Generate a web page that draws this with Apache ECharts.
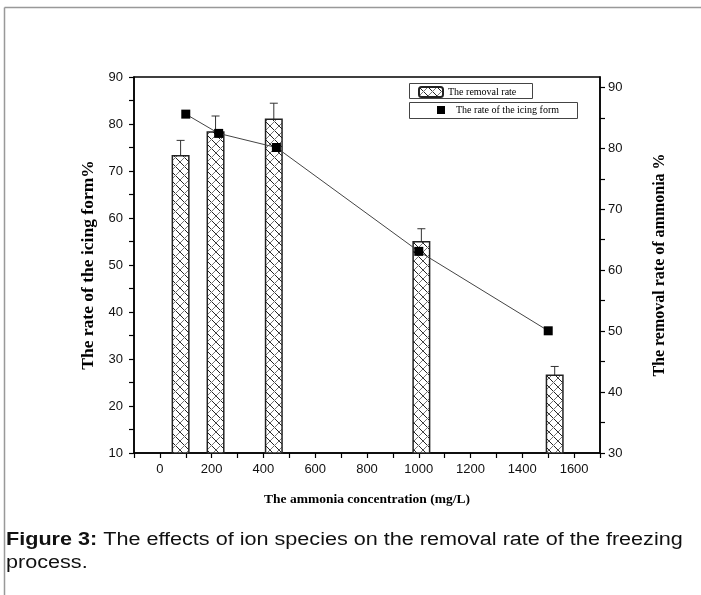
<!DOCTYPE html>
<html>
<head>
<meta charset="utf-8">
<script src="https://cdn.jsdelivr.net/npm/echarts@6/dist/echarts.min.js"></script>
<style>
  html, body { margin: 0; padding: 0; background: #fff; }
  #chart { width: 701px; height: 595px; }
</style>
</head>
<body>
<div id="chart"></div>
<script>
// removal rate bars (right axis)
const barX = [80, 215, 440, 1010, 1525];
const removalRate = [78.9, 82.8, 84.9, 64.8, 42.9];
const removalErr = [2.4, 2.5, 2.5, 2.0, 1.3];
// icing form rate points (left axis)
const icingX = [100, 227, 450, 1000, 1500];
const icingRate = [82.1, 78.0, 75.0, 52.9, 36.0];
const xLabels = [0, 200, 400, 600, 800, 1000, 1200, 1400, 1600];

// cross hatch fill
function hatch() {
  const c = document.createElement("canvas");
  c.width = 9;
  c.height = 9;
  const ctx = c.getContext("2d");
  ctx.fillStyle = "#fff";
  ctx.fillRect(0, 0, 9, 9);
  ctx.lineWidth = 1;
  ctx.strokeStyle = "#222";
  ctx.beginPath();
  ctx.moveTo(0, 0);
  ctx.lineTo(9, 9);
  ctx.stroke();
  ctx.strokeStyle = "#777";
  ctx.beginPath();
  ctx.moveTo(9, 0);
  ctx.lineTo(0, 9);
  ctx.stroke();
  return c;
}

const barData = barX.map((x, i) => [x, removalRate[i]]);
const errData = barX.map((x, i) => [x, removalRate[i] - removalErr[i], removalRate[i] + removalErr[i]]);
const icingData = icingX.map((x, i) => [x, icingRate[i]]);

const serif = "Liberation Serif";
const sans = "Liberation Sans";

const chart = echarts.init(document.getElementById("chart"));
const option = {
  animation: false,
  grid: {
    left: 134,
    right: 101,
    top: 77,
    bottom: 142,
    show: true,
    borderColor: "#000",
    borderWidth: 1.5,
  },
  legend: [
    {
      data: ["The removal rate"],
      left: 418,
      top: 86,
      itemWidth: 24,
      itemHeight: 10,
      itemGap: 4,
      padding: 0,
      textStyle: { fontFamily: serif, fontSize: 10, color: "#000" },
    },
    {
      data: ["The rate of the icing form"],
      left: 437,
      top: 105,
      icon: "rect",
      itemWidth: 8,
      itemHeight: 8,
      padding: 0,
      textStyle: { fontFamily: serif, fontSize: 10, color: "#000", padding: [0, 0, 0, 6] },
    },
  ],
  xAxis: {
    type: "value",
    min: -100,
    max: 1700,
    interval: 100,
    name: "The ammonia concentration (mg/L)",
    nameLocation: "middle",
    nameGap: 40,
    nameTextStyle: { fontFamily: serif, fontSize: 13.5, fontWeight: "bold", color: "#000" },
    axisLine: { onZero: false, lineStyle: { color: "#000", width: 1.5 } },
    axisTick: { inside: false, length: 5, lineStyle: { color: "#000", width: 1.2 } },
    axisLabel: {
      fontFamily: sans,
      fontSize: 13,
      color: "#111",
      margin: 10,
      formatter: (v) => (xLabels.indexOf(v) >= 0 ? String(v) : ""),
    },
    splitLine: { show: false },
  },
  yAxis: [
    {
      type: "value",
      position: "left",
      min: 10,
      max: 90,
      interval: 5,
      name: "The rate of the icing form%",
      nameLocation: "middle",
      nameRotate: 90,
      nameGap: 31,
      nameTextStyle: { fontFamily: serif, fontSize: 17.5, fontWeight: "bold", color: "#000" },
      axisLine: { show: true, onZero: false, lineStyle: { color: "#000", width: 1.5 } },
      axisTick: { show: true, length: 5, lineStyle: { color: "#000", width: 1.2 } },
      axisLabel: {
        fontFamily: sans,
        fontSize: 13,
        color: "#111",
        margin: 11,
        formatter: (v) => (v % 10 === 0 ? String(v) : ""),
      },
      splitLine: { show: false },
    },
    {
      type: "value",
      position: "right",
      min: 30,
      max: 91.7,
      interval: 5,
      name: "The removal rate of ammonia %",
      nameLocation: "middle",
      nameRotate: 90,
      nameGap: 52,
      nameTextStyle: { fontFamily: serif, fontSize: 16, fontWeight: "bold", color: "#000" },
      axisLine: { show: true, onZero: false, lineStyle: { color: "#000", width: 1.5 } },
      axisTick: {
        show: true,
        length: 5,
        customValues: [30, 35, 40, 45, 50, 55, 60, 65, 70, 75, 80, 85, 90],
        lineStyle: { color: "#000", width: 1.2 },
      },
      axisLabel: {
        fontFamily: sans,
        fontSize: 13,
        color: "#111",
        margin: 8,
        customValues: [30, 40, 50, 60, 70, 80, 90],
        formatter: (v) => (v % 10 === 0 ? String(v) : ""),
      },
      splitLine: { show: false },
    },
  ],
  graphic: [
    { type: "line", shape: { x1: 4.5, y1: 7.5, x2: 701, y2: 7.5 }, style: { stroke: "#999", lineWidth: 1.5 } },
    { type: "line", shape: { x1: 4.5, y1: 7.5, x2: 4.5, y2: 595 }, style: { stroke: "#999", lineWidth: 1.5 } },
    { type: "rect", shape: { x: 409.5, y: 83.5, width: 123, height: 15 }, style: { fill: null, stroke: "#444", lineWidth: 1 } },
    { type: "rect", shape: { x: 409.5, y: 102.5, width: 168, height: 16 }, style: { fill: null, stroke: "#444", lineWidth: 1 } },
    {
      type: "text",
      x: 6,
      y: 531,
      scaleX: 1.2,
      style: {
        text: "{b|Figure 3:} The effects of ion species on the removal rate of the freezing",
        fontFamily: sans,
        fontSize: 18,
        fill: "#111",
        verticalAlign: "top",
        rich: { b: { fontFamily: sans, fontSize: 18, fontWeight: "bold", fill: "#111" } },
      },
    },
    {
      type: "text",
      x: 6,
      y: 554,
      scaleX: 1.2,
      style: { text: "process.", fontFamily: sans, fontSize: 18, fill: "#111", verticalAlign: "top" },
    },
  ],
  series: [
    {
      name: "The removal rate",
      type: "bar",
      yAxisIndex: 1,
      barWidth: 18,
      data: barData,
      itemStyle: {
        color: { image: hatch(), repeat: "repeat" },
        borderColor: "#222",
        borderWidth: 1.5,
      },
    },
    {
      type: "custom",
      yAxisIndex: 1,
      data: errData,
      renderItem: function (params, api) {
        const lo = api.coord([api.value(0), api.value(1)]);
        const hi = api.coord([api.value(0), api.value(2)]);
        const st = { stroke: "#333", lineWidth: 1 };
        return {
          type: "group",
          children: [
            { type: "line", shape: { x1: hi[0], y1: hi[1], x2: lo[0], y2: lo[1] }, style: st },
            { type: "line", shape: { x1: hi[0] - 4, y1: hi[1], x2: hi[0] + 4, y2: hi[1] }, style: st },
            { type: "line", shape: { x1: lo[0] - 4, y1: lo[1], x2: lo[0] + 4, y2: lo[1] }, style: st },
          ],
        };
      },
    },
    {
      name: "The rate of the icing form",
      type: "line",
      yAxisIndex: 0,
      data: icingData,
      symbol: "rect",
      symbolSize: 9,
      itemStyle: { color: "#000" },
      lineStyle: { color: "#444", width: 1 },
    },
  ],
};
chart.setOption(option);
window.addEventListener("resize", function () {
  chart.resize();
});
</script>
</body>
</html>
